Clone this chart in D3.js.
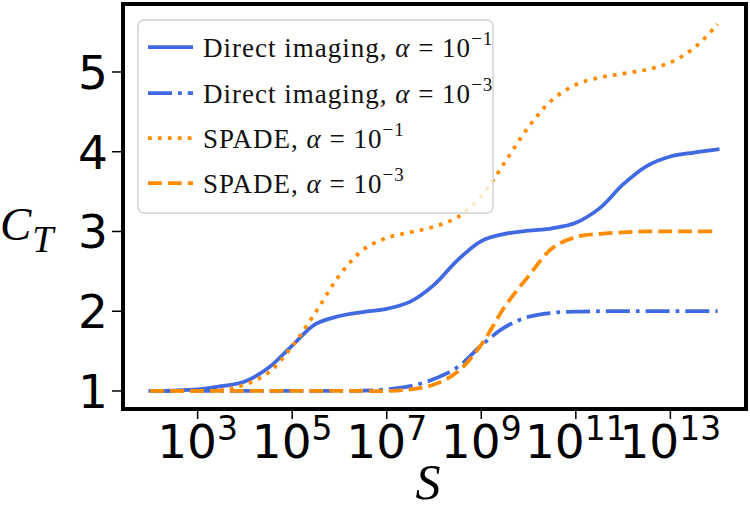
<!DOCTYPE html>
<html>
<head>
<meta charset="utf-8">
<script src="https://cdn.jsdelivr.net/npm/d3@7"></script>
<style>
  html, body { margin: 0; padding: 0; background: #fff; }
  svg { display: block; }
</style>
</head>
<body>
<svg id="chart" width="750" height="509"></svg>
<script>
// ---- data (exponents of S, and C_T values) ----
const sExp = [2, 2.5, 3, 3.5, 4, 4.5, 5, 5.5, 6, 6.5, 7, 7.5, 8, 8.5, 9, 9.5, 10, 10.5, 11, 11.5, 12, 12.5, 13, 13.5, 14];
const directA1 = [1.0, 1.005, 1.02, 1.06, 1.12, 1.29, 1.57, 1.84, 1.94, 1.99, 2.03, 2.12, 2.33, 2.64, 2.88, 2.97, 3.01, 3.04, 3.11, 3.29, 3.59, 3.82, 3.94, 3.99, 4.03];
const directA3 = [1, 1, 1, 1, 1, 1, 1, 1, 1, 1.003, 1.02, 1.06, 1.15, 1.3, 1.57, 1.8, 1.93, 1.98, 1.995, 2.0, 2.0, 2.0, 2.0, 2.0, 2.0];
const spadeA1 = [1.0, 1.0, 1.0, 1.01, 1.08, 1.23, 1.56, 1.99, 2.45, 2.77, 2.92, 2.99, 3.06, 3.18, 3.44, 3.87, 4.31, 4.65, 4.84, 4.93, 4.98, 5.03, 5.12, 5.3, 5.6];
const spadeA3 = [1, 1, 1, 1, 1, 1, 1, 1, 1, 1, 1.0, 1.02, 1.08, 1.24, 1.58, 2.06, 2.44, 2.79, 2.93, 2.97, 2.99, 3.0, 3.0, 3.0, 3.0];
const xTickExp = [3, 5, 7, 9, 11, 13];
const yTicks = [1, 2, 3, 4, 5];
const seriesNames = ["Direct imaging", "Direct imaging", "SPADE", "SPADE"];
const seriesAlpha = ["−1", "−3", "−1", "−3"];

// ---- layout ----
const svg = d3.select("#chart");
const BLUE = "#4169E1", ORANGE = "#FF8C00";
const LW = 3.75;
const x = d3.scaleLog().domain([Math.pow(10, 1.4), Math.pow(10, 14.6)]).range([122, 746]);
const y = d3.scaleLinear().domain([0.769, 5.85]).range([409.4, 4.2]);

const styles = [
  { data: directA1, color: BLUE, dash: null },
  { data: directA3, color: BLUE, dash: [6.4 * LW, 1.6 * LW, 1 * LW, 1.6 * LW].join(",") },
  { data: spadeA1, color: ORANGE, dash: [1 * LW, 1.65 * LW].join(",") },
  { data: spadeA3, color: ORANGE, dash: [3.7 * LW, 1.6 * LW].join(",") }
];

const line = d3.line()
  .x(d => x(Math.pow(10, d[0])))
  .y(d => y(d[1]))
  .curve(d3.curveCatmullRom.alpha(0.5));

const plot = svg.append("g");
styles.forEach(s => {
  plot.append("path")
    .attr("d", line(sExp.map((e, i) => [e, s.data[i]])))
    .attr("fill", "none")
    .attr("stroke", s.color)
    .attr("stroke-width", LW)
    .attr("stroke-linecap", s.dash ? "butt" : "square")
    .attr("stroke-linejoin", "round")
    .attr("stroke-dasharray", s.dash);
});

// ---- legend ----
const lg = svg.append("g");
lg.append("rect")
  .attr("x", 138).attr("y", 20).attr("width", 355).attr("height", 193)
  .attr("rx", 6).attr("ry", 6)
  .attr("fill", "#fff").attr("fill-opacity", 0.8)
  .attr("stroke", "#d3d3d3").attr("stroke-width", 1.5);
const rowY = [47, 93, 138, 183];
styles.forEach((s, i) => {
  lg.append("line")
    .attr("x1", 148).attr("x2", 193)
    .attr("y1", rowY[i]).attr("y2", rowY[i])
    .attr("stroke", s.color).attr("stroke-width", LW)
    .attr("stroke-dasharray", s.dash);
  const t = lg.append("text")
    .attr("x", 203).attr("y", rowY[i] + 10)
    .attr("font-family", "'Liberation Serif', serif")
    .attr("font-size", 27)
    .attr("letter-spacing", 1.0)
    .attr("fill", "#111");
  t.append("tspan").text(seriesNames[i] + ", ");
  t.append("tspan").attr("font-style", "italic").text("α");
  t.append("tspan").text(" = 10");
  t.append("tspan").attr("font-size", 19).attr("dy", -12).text(seriesAlpha[i]);
});

// ---- axes ----
const axisG = svg.append("g");
xTickExp.forEach(e => {
  const px = x(Math.pow(10, e));
  axisG.append("line").attr("x1", px).attr("x2", px).attr("y1", 409).attr("y2", 419)
    .attr("stroke", "#000").attr("stroke-width", 1.5);
  const t = axisG.append("text")
    .attr("x", px).attr("y", 458)
    .attr("text-anchor", "middle")
    .attr("font-family", "'DejaVu Sans', sans-serif")
    .attr("font-size", 47)
    .attr("fill", "#000");
  t.append("tspan").text("10");
  t.append("tspan").attr("font-size", 33).attr("dy", -18).text(String(e));
});
yTicks.forEach(v => {
  const py = y(v);
  axisG.append("line").attr("x1", 112).attr("x2", 122).attr("y1", py).attr("y2", py)
    .attr("stroke", "#000").attr("stroke-width", 1.5);
  axisG.append("text")
    .attr("x", 108).attr("y", py + 17)
    .attr("text-anchor", "end")
    .attr("font-family", "'DejaVu Sans', sans-serif")
    .attr("font-size", 47)
    .attr("fill", "#000")
    .text(String(v));
});
axisG.append("rect")
  .attr("x", 123).attr("y", 4).attr("width", 623).attr("height", 405)
  .attr("fill", "none").attr("stroke", "#000").attr("stroke-width", 4);

// axis labels
const yl = svg.append("text")
  .attr("x", 0).attr("y", 240)
  .attr("font-family", "'Liberation Serif', serif")
  .attr("font-style", "italic")
  .attr("font-size", 47)
  .attr("fill", "#000");
yl.append("tspan").text("C");
yl.append("tspan").attr("font-size", 38).attr("dy", 12).attr("dx", 1).text("T");

svg.append("text")
  .attr("x", 428).attr("y", 499)
  .attr("text-anchor", "middle")
  .attr("font-family", "'Liberation Serif', serif")
  .attr("font-style", "italic")
  .attr("font-size", 50)
  .attr("fill", "#000")
  .text("S");
</script>
</body>
</html>
